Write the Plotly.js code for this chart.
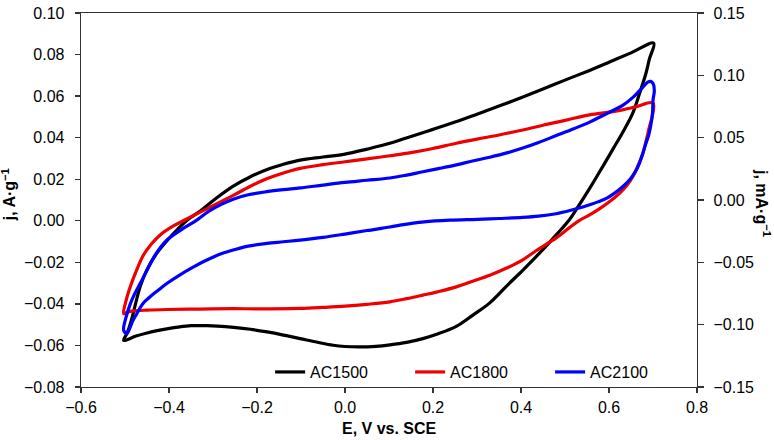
<!DOCTYPE html>
<html>
<head>
<meta charset="utf-8">
<script src="https://cdn.plot.ly/plotly-3.0.1.min.js"></script>
<style>
html,body{margin:0;padding:0;background:#fff;}
#chart{width:774px;height:440px;}
</style>
</head>
<body>
<div id="chart"></div>
<script>
// AC1500 cyclic voltammogram (E in V vs. SCE, j in A/g)
const ac1500_E = [-0.503,-0.495,-0.485,-0.475,-0.466,-0.45,-0.428,-0.40,-0.38,-0.359,-0.329,-0.295,-0.254,-0.216,-0.177,-0.14,-0.102,-0.05,0.0,0.05,0.102,0.15,0.2,0.25,0.3,0.35,0.4,0.45,0.5,0.55,0.6,0.65,0.7016,
  0.692,0.684,0.669,0.654,0.631,0.609,0.586,0.555,0.525,0.51,0.48,0.45,0.405,0.37,0.329,0.29,0.253,0.21,0.177,0.14,0.102,0.07,0.034,0.0,-0.027,-0.06,-0.102,-0.14,-0.177,-0.215,-0.253,-0.29,-0.314,-0.35,-0.38,-0.405,-0.43,-0.45,-0.475,-0.503];
const ac1500_j = [-0.0576,-0.054,-0.0475,-0.039,-0.032,-0.0235,-0.0157,-0.0085,-0.004,0.0003,0.0047,0.0105,0.0167,0.0211,0.0247,0.0272,0.0292,0.0307,0.0321,0.0345,0.0373,0.0406,0.044,0.0475,0.0513,0.0552,0.0592,0.0634,0.0677,0.0719,0.0763,0.0808,0.0855,
  0.078,0.071,0.061,0.0518,0.0425,0.0345,0.0262,0.0152,0.0052,0.0005,-0.0068,-0.0138,-0.0236,-0.0308,-0.0395,-0.0455,-0.0508,-0.0545,-0.0567,-0.0585,-0.0597,-0.0604,-0.0607,-0.0605,-0.0599,-0.0586,-0.0567,-0.055,-0.0535,-0.0522,-0.0513,-0.0507,-0.0505,-0.0505,-0.0512,-0.052,-0.053,-0.054,-0.0555,-0.0576];

// AC1800
const ac1800_E = [-0.503,-0.497,-0.488,-0.475,-0.458,-0.44,-0.42,-0.39,-0.363,-0.329,-0.29,-0.254,-0.216,-0.178,-0.14,-0.102,-0.05,0.0,0.05,0.102,0.15,0.2,0.253,0.3,0.35,0.404,0.45,0.5,0.556,0.6,0.631,0.66,0.70,
  0.698,0.692,0.685,0.677,0.665,0.654,0.64,0.624,0.6,0.578,0.555,0.533,0.51,0.48,0.435,0.404,0.37,0.329,0.29,0.253,0.21,0.177,0.14,0.102,0.05,0.0,-0.05,-0.102,-0.2,-0.254,-0.33,-0.405,-0.45,-0.48,-0.495,-0.503];
const ac1800_j = [-0.0447,-0.038,-0.0318,-0.0245,-0.0165,-0.0112,-0.0068,-0.0025,0.0005,0.0042,0.0083,0.0122,0.0165,0.0202,0.023,0.0252,0.027,0.0284,0.0298,0.0313,0.0328,0.0348,0.0373,0.0393,0.0413,0.0437,0.046,0.0483,0.051,0.0523,0.0534,0.0548,0.0567,
  0.050,0.0453,0.039,0.0325,0.026,0.0212,0.0168,0.0132,0.009,0.0057,0.0027,0.0002,-0.0033,-0.0082,-0.0143,-0.0188,-0.0225,-0.0262,-0.0291,-0.0318,-0.0342,-0.0358,-0.0375,-0.039,-0.0402,-0.0411,-0.0417,-0.0422,-0.0424,-0.0423,-0.0425,-0.0427,-0.043,-0.0434,-0.044,-0.0447];

// AC2100
const ac2100_E = [-0.503,-0.497,-0.488,-0.48,-0.465,-0.45,-0.43,-0.405,-0.37,-0.337,-0.31,-0.28,-0.254,-0.22,-0.178,-0.14,-0.102,-0.05,0.0,0.05,0.102,0.14,0.177,0.215,0.253,0.29,0.329,0.37,0.404,0.44,0.48,0.52,0.556,0.595,0.631,0.655,0.669,0.68,0.688,0.695,0.701,0.703,
  0.700,0.699,0.695,0.690,0.684,0.677,0.67,0.662,0.648,0.631,0.612,0.594,0.575,0.556,0.53,0.503,0.48,0.44,0.404,0.35,0.3,0.238,0.18,0.125,0.102,0.05,0.0,-0.05,-0.102,-0.14,-0.178,-0.22,-0.254,-0.28,-0.299,-0.32,-0.344,-0.375,-0.405,-0.425,-0.443,-0.46,-0.473,-0.482,-0.488,-0.496,-0.503];
const ac2100_j = [-0.0527,-0.046,-0.040,-0.036,-0.030,-0.0238,-0.016,-0.0093,-0.004,0.0003,0.0045,0.008,0.0104,0.0125,0.014,0.015,0.0158,0.0172,0.0185,0.0195,0.0206,0.022,0.0236,0.0252,0.0269,0.0288,0.0306,0.0328,0.0350,0.0377,0.041,0.0443,0.0475,0.0516,0.0555,0.0595,0.0625,0.065,0.0667,0.0671,0.0657,0.0625,
  0.058,0.052,0.046,0.041,0.0373,0.0325,0.0282,0.0244,0.020,0.0164,0.0132,0.0108,0.0091,0.0077,0.0060,0.0045,0.0034,0.0022,0.0016,0.0011,0.0007,0.0003,-0.0005,-0.0021,-0.003,-0.0047,-0.0064,-0.008,-0.0093,-0.0101,-0.0109,-0.0122,-0.0141,-0.0158,-0.0174,-0.0195,-0.0222,-0.026,-0.0302,-0.0335,-0.0366,-0.040,-0.0447,-0.048,-0.0511,-0.0543,-0.0527];

const seriesNames = ['AC1500','AC1800','AC2100'];
const seriesColors = ['#000000','#ee0000','#0000ff'];

const FONT = '"Liberation Sans", Arial, sans-serif';

const lineStyle = (c) => ({color:c, width:3.2, shape:'spline', smoothing:1.0});

const data = [
  {x: ac1500_E, y: ac1500_j, name: seriesNames[0], mode:'lines', line:lineStyle(seriesColors[0])},
  {x: ac1800_E, y: ac1800_j, name: seriesNames[1], mode:'lines', line:lineStyle(seriesColors[1])},
  {x: ac2100_E, y: ac2100_j, name: seriesNames[2], mode:'lines', line:lineStyle(seriesColors[2])},
  {x: [], y: [], yaxis:'y2', showlegend:false, hoverinfo:'skip', mode:'lines'}
];

const axisCommon = {
  showgrid:false, zeroline:false, showline:true, linecolor:'#333', linewidth:1.3,
  ticks:'outside', ticklen:5, tickwidth:1.3, tickcolor:'#333',
  tickfont:{family:FONT, size:16, color:'#000'}
};

const layout = {
  width:774, height:440,
  margin:{l:81, r:77, t:13, b:53, pad:0},
  paper_bgcolor:'#fff', plot_bgcolor:'#fff',
  font:{family:FONT, size:16, color:'#000'},
  showlegend:true,
  legend:{orientation:'h', x:0.307, xanchor:'left', y:0.04, yanchor:'middle',
          entrywidth:95, entrywidthmode:'pixels', bgcolor:'rgba(0,0,0,0)',
          font:{family:FONT, size:16, color:'#000'}, itemwidth:30, tracegroupgap:0},
  xaxis: Object.assign({}, axisCommon, {range:[-0.6,0.8], dtick:0.2, tick0:-0.6, tickformat:'.1f', mirror:true}),
  yaxis: Object.assign({}, axisCommon, {range:[-0.08,0.1], dtick:0.02, tick0:-0.08, tickformat:'.2f', ticklabelstandoff:7}),
  yaxis2: Object.assign({}, axisCommon, {range:[-0.15,0.15], dtick:0.05, tick0:-0.15, tickformat:'.2f', overlaying:'y', side:'right', anchor:'x', ticklen:6, ticklabelstandoff:6}),
  annotations:[
    {text:'<b>E, V vs. SCE</b>', xref:'paper', yref:'paper', x:0.5, y:-0.1106, xanchor:'center', yanchor:'middle', showarrow:false, font:{family:FONT, size:16, color:'#000'}},
    {text:'<b>j, A·g<sup>−1</sup></b>', xref:'paper', yref:'paper', x:-0.117, y:0.515, xanchor:'center', yanchor:'middle', textangle:-90, showarrow:false, font:{family:FONT, size:16, color:'#000'}},
    {text:'<b>j, mA·g<sup>−1</sup></b>', xref:'paper', yref:'paper', x:(763-81)/616, y:0.492, xanchor:'center', yanchor:'middle', textangle:90, showarrow:false, font:{family:FONT, size:16, color:'#000'}}
  ]
};

Plotly.newPlot('chart', data, layout, {staticPlot:true, displayModeBar:false});
</script>
</body>
</html>
